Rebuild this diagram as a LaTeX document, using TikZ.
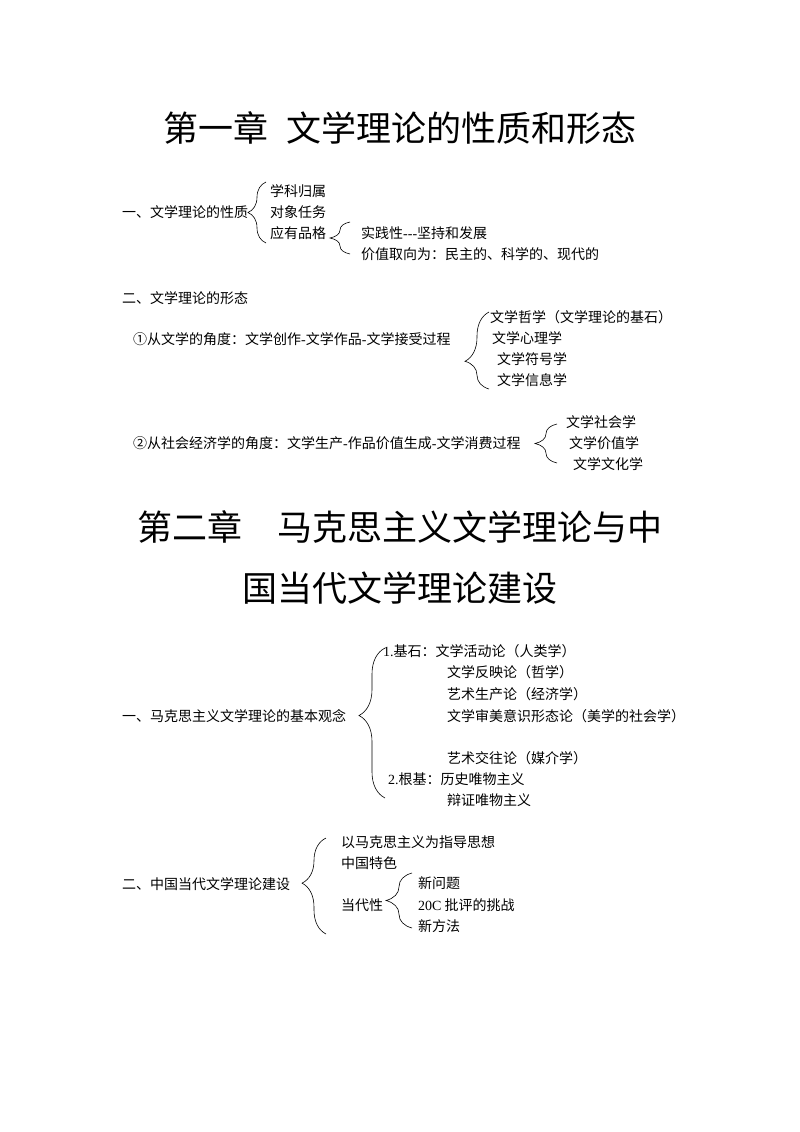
\documentclass[tikz,border=0pt]{standalone}
\usepackage{fontspec}
\setmainfont{Liberation Serif}
\newfontfamily\cjk{Noto Sans CJK SC}
\usetikzlibrary{decorations.pathreplacing}
\newcommand\latn[1]{{\rmfamily #1}}
\begin{document}
\begin{tikzpicture}[x=1pt,y=-1pt,
  txt/.style={anchor=west, inner sep=0pt, font=\cjk\fontsize{14}{16}\selectfont},
  ttl/.style={anchor=center, inner sep=0pt, font=\cjk\fontsize{35}{40}\selectfont},
  brc/.style n args={2}{decorate, decoration={brace, amplitude=#1pt, aspect=#2}, line width=0.6pt}]
\useasboundingbox[fill=white] (0,0) rectangle (800,1132);
% Chapter 1
\node[ttl] (t1) at (400,128) {第一章\hspace{0.5em}文学理论的性质和形态};
\node[txt] (s1) at (122,212) {一、文学理论的性质};
\node[txt] (a1) at (270,191) {学科归属};
\node[txt] (a2) at (270,212) {对象任务};
\node[txt] (a3) at (270,233) {应有品格};
\node[txt] (a31) at (361,233) {实践性\latn{-{}-{}-}坚持和发展};
\node[txt] (a32) at (361,254) {价值取向为：民主的、科学的、现代的};
\coordinate (b1t) at (266,182); \coordinate (b1b) at (266,243);
\draw[brc={18}{0.5}] (b1b) -- (b1t);
\coordinate (b2t) at (350,222); \coordinate (b2b) at (350,254);
\draw[brc={20}{0.5}] (b2b) -- (b2t);
\node[txt] (s2) at (122,298) {二、文学理论的形态};
\node[txt] (f1) at (133,339) {①从文学的角度：文学创作\latn{-}文学作品\latn{-}文学接受过程};
\node[txt] (f11) at (490,317) {文学哲学（文学理论的基石）};
\node[txt] (f12) at (492,338) {文学心理学};
\node[txt] (f13) at (497,359) {文学符号学};
\node[txt] (f14) at (497,380) {文学信息学};
\coordinate (b3t) at (489,312); \coordinate (b3b) at (489,389);
\draw[brc={24}{0.36}] (b3b) -- (b3t);
\node[txt] (f2) at (133,443) {②从社会经济学的角度：文学生产\latn{-}作品价值生成\latn{-}文学消费过程};
\node[txt] (f21) at (566,422) {文学社会学};
\node[txt] (f22) at (569,443) {文学价值学};
\node[txt] (f23) at (573,464) {文学文化学};
\coordinate (b4t) at (557,424); \coordinate (b4b) at (557,463);
\draw[brc={22}{0.5}] (b4b) -- (b4t);
% Chapter 2
\node[ttl] (t2a) at (400,527) {第二章\hspace{1em}马克思主义文学理论与中};
\node[ttl] (t2b) at (400,588) {国当代文学理论建设};
\node[txt] (m1) at (122,716) {一、马克思主义文学理论的基本观念};
\node[txt] (m11) at (383,651) {\latn{1.}基石：文学活动论（人类学）};
\node[txt] (m12) at (447,672) {文学反映论（哲学）};
\node[txt] (m13) at (447,694) {艺术生产论（经济学）};
\node[txt] (m14) at (447,716) {文学审美意识形态论（美学的社会学）};
\node[txt] (m15) at (447,758) {艺术交往论（媒介学）};
\node[txt] (m16) at (388,779) {\latn{2.}根基：历史唯物主义};
\node[txt] (m17) at (447,800) {辩证唯物主义};
\coordinate (b5t) at (385,648); \coordinate (b5b) at (385,798);
\draw[brc={26}{0.55}] (b5b) -- (b5t);
\node[txt] (c1) at (122,884) {二、中国当代文学理论建设};
\node[txt] (c11) at (341,842) {以马克思主义为指导思想};
\node[txt] (c12) at (341,863) {中国特色};
\node[txt] (c13) at (341,905) {当代性};
\node[txt] (c131) at (418,883) {新问题};
\node[txt] (c132) at (418,905) {\latn{20C} 批评的挑战};
\node[txt] (c133) at (418,926) {新方法};
\coordinate (b6t) at (326,838); \coordinate (b6b) at (326,934);
\draw[brc={24}{0.53}] (b6b) -- (b6t);
\coordinate (b7t) at (412,873); \coordinate (b7b) at (412,928);
\draw[brc={26}{0.5}] (b7b) -- (b7t);
\end{tikzpicture}
\end{document}
